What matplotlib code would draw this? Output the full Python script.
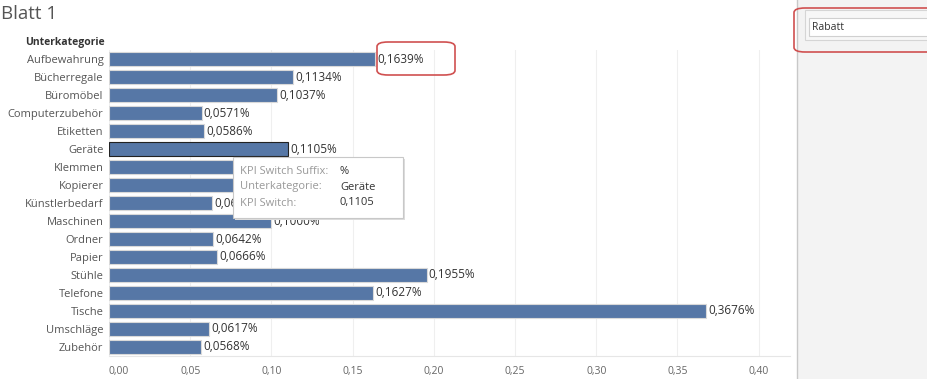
import matplotlib.pyplot as plt
from matplotlib.patches import FancyBboxPatch, Rectangle
from matplotlib.transforms import Bbox

# data
kategorien = ['Aufbewahrung', 'Bücherregale', 'Büromöbel', 'Computerzubehör', 'Etiketten',
              'Geräte', 'Klemmen', 'Kopierer', 'Künstlerbedarf', 'Maschinen', 'Ordner',
              'Papier', 'Stühle', 'Telefone', 'Tische', 'Umschläge', 'Zubehör']
rabatt = [0.1639, 0.1134, 0.1037, 0.0571, 0.0586, 0.1105, 0.0810, 0.0890, 0.0635, 0.1000,
          0.0642, 0.0666, 0.1955, 0.1627, 0.3676, 0.0617, 0.0568]
xticks = [0.00, 0.05, 0.10, 0.15, 0.20, 0.25, 0.30, 0.35, 0.40]
tooltip_keys = ['KPI Switch Suffix:', 'Unterkategorie:', 'KPI Switch:']
tooltip_vals = ['%', 'Geräte', '0,1105']
# labels fully hidden behind the tooltip in the screenshot
verdeckt = ['Klemmen', 'Kopierer']

plt.rcParams['font.family'] = ['Open Sans', 'DejaVu Sans']

W, H = 928, 379
fig = plt.figure(figsize=(W / 100, H / 100), dpi=100)
fig.patch.set_facecolor('white')

def px(x, y):
    return (x / W, 1 - y / H)

def fmt(v):
    return ('%.4f' % v).replace('.', ',')

ax = fig.add_axes([109 / W, 1 - 356 / H, (790 - 109) / W, 306 / H])
ypos = list(range(len(kategorien)))
farben = ['#5677a6'] * len(kategorien)
kanten = ['#d9d9d9'] * len(kategorien)
kanten[5] = '#222222'
ax.barh(ypos, rabatt, height=0.78, color=farben, edgecolor=kanten, linewidth=0.8, zorder=3)

for i, v in enumerate(rabatt):
    if kategorien[i] in verdeckt:
        continue
    t = ax.text(v + 0.0012, i, fmt(v) + '%', va='center', ha='left', fontsize=8.5,
                color='#333333', zorder=4)
    if kategorien[i] == 'Künstlerbedarf':
        # cut off where the tooltip starts
        t.set_clip_box(fig.transFigure.transform_bbox(Bbox.from_extents(0, 0, 233 / W, 1)))
        t.set_clip_on(True)

ax.set_ylim(len(kategorien) - 0.5, -0.5)
ax.set_xlim(0, 0.4193)
ax.set_yticks(ypos)
ax.set_yticklabels(kategorien, fontsize=8, color='#555555')
ax.set_xticks(xticks)
ax.set_xticklabels([('%.2f' % t).replace('.', ',') for t in xticks], fontsize=7.5, color='#666666')
ax.get_xticklabels()[0].set_ha('left')
ax.tick_params(axis='y', length=0, pad=4)
ax.tick_params(axis='x', length=0, pad=7)
ax.grid(axis='x', color='#efefef', linewidth=0.8, zorder=0)
for s in ['top', 'right', 'left']:
    ax.spines[s].set_visible(False)
ax.spines['bottom'].set_color('#e6e6e6')

# title and header
fig.text(*px(1, 14), 'Blatt 1', fontsize=13.5, color='#555555', va='center', ha='left')
fig.text(*px(105, 42), 'Unterkategorie', fontsize=7.5, color='#333333', fontweight='bold',
         va='center', ha='right')

# right panel
fig.add_artist(Rectangle(px(797, 379), (W - 797) / W, 1, transform=fig.transFigure,
                         facecolor='#f3f3f3', edgecolor='none', zorder=1))
fig.add_artist(plt.Line2D([797 / W, 797 / W], [0, 1], transform=fig.transFigure,
                          color='#c8c8c8', linewidth=1, zorder=2))
fig.add_artist(Rectangle(px(805, 40), (W - 805) / W, 30 / H, transform=fig.transFigure,
                         facecolor='#f7f7f7', edgecolor='#d5d5d5', linewidth=0.8, zorder=2))
fig.add_artist(Rectangle(px(809, 36), (W - 809) / W, 18 / H, transform=fig.transFigure,
                         facecolor='white', edgecolor='#d0d0d0', linewidth=0.8, zorder=3))
fig.text(*px(812, 27), 'Rabatt', fontsize=7.5, color='#333333', va='center', ha='left', zorder=4)

# red highlight boxes
for (x0, y0, x1, y1) in [(377, 75, 455, 42), (794, 52, 940, 8)]:
    fig.add_artist(FancyBboxPatch(px(x0, y0), (x1 - x0) / W, (y0 - y1) / H,
                                  boxstyle='round,pad=0,rounding_size=0.012',
                                  transform=fig.transFigure, facecolor='none',
                                  edgecolor='#d05050', linewidth=1.2, zorder=10))

# tooltip
fig.add_artist(Rectangle(px(235, 220), 170 / W, 61 / H, transform=fig.transFigure,
                         facecolor='#dddddd', edgecolor='none', zorder=8))
fig.add_artist(Rectangle(px(233, 218), 170 / W, 61 / H, transform=fig.transFigure,
                         facecolor='white', edgecolor='#c8c8c8', linewidth=0.8, zorder=9))
for k, (key, val) in enumerate(zip(tooltip_keys, tooltip_vals)):
    y = 171 + k * 16
    fig.text(*px(240, y), key, fontsize=8, color='#999999', va='center', ha='left', zorder=11)
    fig.text(*px(340, y), val, fontsize=8, color='#333333', va='center', ha='left', zorder=11)

fig.savefig('out.png', dpi=100)
